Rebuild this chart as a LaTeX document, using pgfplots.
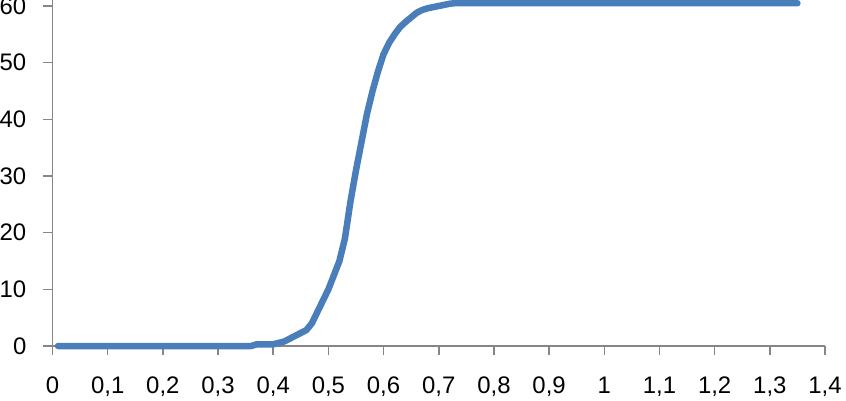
\documentclass[border=0pt]{standalone}
\usepackage{pgfplots}
\pgfplotsset{compat=1.18}
\usepackage{fontspec}
\setmainfont{Liberation Sans}
\definecolor{lineblue}{HTML}{4A7EBB}
\definecolor{axgray}{HTML}{868686}
\begin{document}
\fontsize{24}{28}\selectfont
\begin{tikzpicture}
\begin{axis}[
  at={(0,0)}, anchor=origin,
  scale only axis,
  width=772.5bp, height=346bp,
  xmin=0, xmax=1.4, ymin=0, ymax=61.06,
  axis x line=bottom, axis y line=left,
  axis line style={-, draw=axgray, line width=1.5bp},
  xtick={0,0.1,...,1.41}, ytick={0,10,...,60},
  minor tick num=0,
  tick style={draw=axgray, line width=1.5bp},
  tick align=outside,
  major tick length=9bp,
  /pgf/number format/assume math mode=true,
  /pgf/number format/use comma,
  x tick label style={font=\fontsize{24}{28}\selectfont, inner sep=0pt, anchor=north},
  y tick label style={font=\fontsize{24}{28}\selectfont, inner sep=0pt, anchor=east},
  xticklabel shift=22bp,
  yticklabel shift=17bp,
  clip=false,
]
\addplot[lineblue, line width=6.5bp, line cap=round, line join=round] coordinates {
(0.01,0) (0.1,0) (0.2,0) (0.3,0) (0.36,0) (0.37,0.3) (0.40,0.3) (0.42,0.8)
(0.44,1.8) (0.46,2.8) (0.47,4) (0.48,6) (0.49,8) (0.50,10) (0.51,12.5)
(0.52,15) (0.53,19) (0.54,25.5) (0.55,31) (0.56,36) (0.57,41) (0.58,45)
(0.59,48.5) (0.60,51.5) (0.61,53.5) (0.62,55) (0.63,56.3) (0.64,57.2)
(0.65,58) (0.66,58.8) (0.67,59.3) (0.68,59.6) (0.69,59.8) (0.70,60)
(0.71,60.2) (0.72,60.4) (0.73,60.5) (1.35,60.5)
};
\end{axis}
\pgfresetboundingbox
\path[use as bounding box] (-52.5bp,-55bp) rectangle (793.5bp,346bp);
\end{tikzpicture}
\end{document}
